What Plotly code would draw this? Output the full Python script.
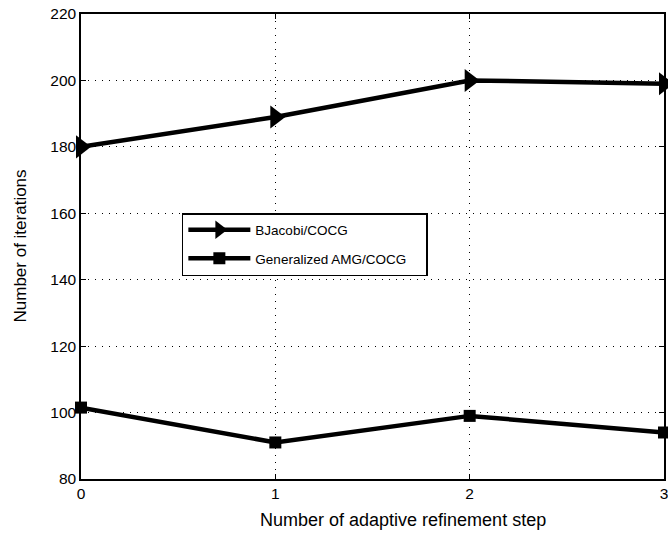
import plotly.graph_objects as go

steps = [0, 1, 2, 3]
bjacobi = [180, 189, 200, 199]
amg = [101.5, 91, 99, 94]
x_ticks = [0, 1, 2, 3]
y_ticks = [80, 100, 120, 140, 160, 180, 200, 220]
series_names = ["BJacobi/COCG", "Generalized AMG/COCG"]

pad = "\u00a0" * 4

fig = go.Figure()
fig.add_trace(go.Scatter(
    x=steps, y=bjacobi, name=series_names[0] + pad, mode="lines+markers",
    legendgroup="a",
    line=dict(color="black", width=4.5),
    marker=dict(symbol="triangle-right", size=20, color="black"),
    cliponaxis=False,
))
fig.add_trace(go.Scatter(
    x=steps, y=amg, name=series_names[1] + pad, mode="lines+markers",
    legendgroup="b",
    line=dict(color="black", width=4.5),
    marker=dict(symbol="square", size=12, color="black"),
    cliponaxis=False,
))

font = "Liberation Sans, Arial, Helvetica, sans-serif"
axis_common = dict(
    showgrid=True, gridcolor="black", griddash="1px,6px", gridwidth=1,
    showline=True, linecolor="black", linewidth=1.5, mirror="ticks",
    ticks="inside", ticklen=5, tickcolor="black", zeroline=False,
    tickfont=dict(size=15.5), automargin=False,
)
fig.update_layout(
    width=668, height=540,
    margin=dict(l=81, r=4, t=14, b=61),
    paper_bgcolor="white", plot_bgcolor="white",
    font=dict(family=font, color="black", size=14),
    showlegend=True,
    legend=dict(
        x=0.173, y=0.572, xanchor="left", yanchor="top",
        bordercolor="black", borderwidth=1.5, bgcolor="white",
        font=dict(size=13.5, family=font), itemwidth=62,
        traceorder="grouped", tracegroupgap=8,
    ),
    xaxis=dict(range=[0, 3], tickvals=x_ticks, ticktext=[str(v) for v in x_ticks],
               ticklabeloverflow="allow", **axis_common),
    yaxis=dict(range=[80, 220], tickvals=y_ticks, **axis_common),
    annotations=[
        dict(text="Number of adaptive refinement step", xref="paper", yref="paper",
             x=(403 - 81) / 583, y=-(520 - 479) / 465, xanchor="center", yanchor="middle",
             showarrow=False, font=dict(size=18)),
        dict(text="Number of iterations", xref="paper", yref="paper",
             x=-(81 - 20) / 583, y=0.5, xanchor="center", yanchor="middle",
             textangle=-90, showarrow=False, font=dict(size=17)),
    ],
)

fig.write_html(
    "out.html",
    config={"displayModeBar": False},
    post_script="document.body.style.margin='0';document.body.style.overflow='hidden';",
)
